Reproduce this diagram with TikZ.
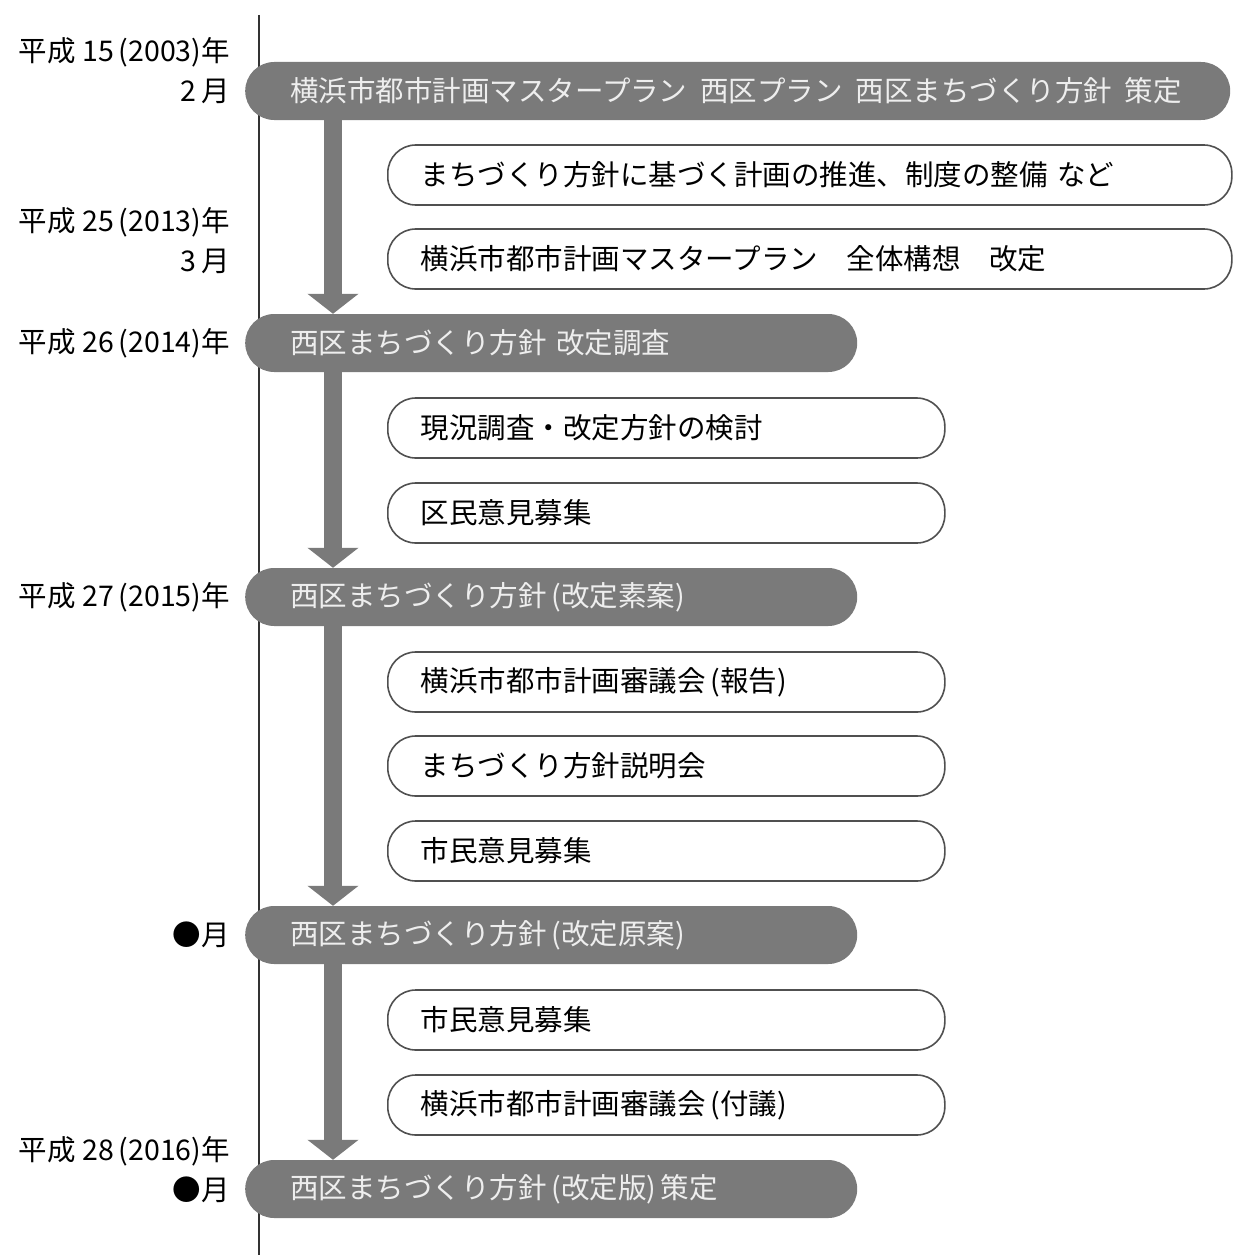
\documentclass[tikz,border=0pt]{standalone}
\usepackage{fontspec}
\setmainfont{Noto Sans CJK JP}
\usetikzlibrary{arrows.meta,positioning}
\definecolor{pillgray}{RGB}{122,122,122}
\definecolor{pilltext}{RGB}{238,238,238}
\definecolor{boxline}{RGB}{80,80,80}

\begin{document}
\begin{tikzpicture}[x=1pt,y=-1pt,
    every node/.style={font=\fontsize{28.5}{40}\selectfont},
    pill/.style={fill=pillgray,text=pilltext,rounded corners=29pt,minimum height=58pt,inner xsep=45pt,inner ysep=0pt,align=left,anchor=west},
    stepbox/.style={draw=boxline,line width=1.6pt,fill=white,rounded corners=28pt,minimum height=60pt,inner xsep=33pt,inner ysep=0pt,align=left,anchor=west},
    yearlbl/.style={anchor=east,align=right,inner sep=0pt},
    flow/.style={draw=pillgray,line width=18pt,-{Triangle[width=50pt,length=20pt]}}]
  \useasboundingbox (0,0) rectangle (1232,1255);
  \coordinate (top) at (259,15);
  \coordinate (bottom) at (259,1255);
  \coordinate (ax) at (333,0);
  \draw[line width=2pt,black!80] (top) -- (bottom);
  % 年次
  \node[yearlbl] (y1) at (230,71) {平成 15\,(2003)年\\2\,月};
  \node[yearlbl] (y2) at (230,241) {平成 25\,(2013)年\\3\,月};
  \node[yearlbl] (y3) at (230,343) {平成 26\,(2014)年};
  \node[yearlbl] (y4) at (230,597) {平成 27\,(2015)年};
  \node[yearlbl] (y5) at (230,935) {●月};
  \node[yearlbl] (y6) at (230,1170) {平成 28\,(2016)年\\●月};
  % 主な段階
  \node[pill,text width=895pt] (p1) at (245,91) {横浜市都市計画マスタープラン\hspace{0.45em}西区プラン\hspace{0.45em}西区まちづくり方針\hspace{0.45em}策定};
  \node[pill,text width=522pt] (p2) at (245,343) {西区まちづくり方針 改定調査};
  \node[pill,text width=522pt] (p3) at (245,597) {西区まちづくり方針\,(改定素案)};
  \node[pill,text width=522pt] (p4) at (245,935) {西区まちづくり方針\,(改定原案)};
  \node[pill,text width=522pt] (p5) at (245,1189) {西区まちづくり方針\,(改定版)\,策定};
  % 各段階の内容
  \foreach \y/\tw/\t [count=\i] in {175/778/{まちづくり方針に基づく計画の推進、制度の整備 など},
      259/778/{横浜市都市計画マスタープラン　全体構想　改定},
      428/491/{現況調査・改定方針の検討},
      513/491/{区民意見募集},
      682/491/{横浜市都市計画審議会\,(報告)},
      766/491/{まちづくり方針説明会},
      851/491/{市民意見募集},
      1020/491/{市民意見募集},
      1105/491/{横浜市都市計画審議会\,(付議)}}
    \node[stepbox,text width=\tw pt] (b\i) at (387,\y) {\t};
  % 矢印
  \foreach \a/\b in {p1/p2,p2/p3,p3/p4,p4/p5}
    \draw[flow] (\a.south -| ax) -- (\b.north -| ax);
\end{tikzpicture}
\end{document}
